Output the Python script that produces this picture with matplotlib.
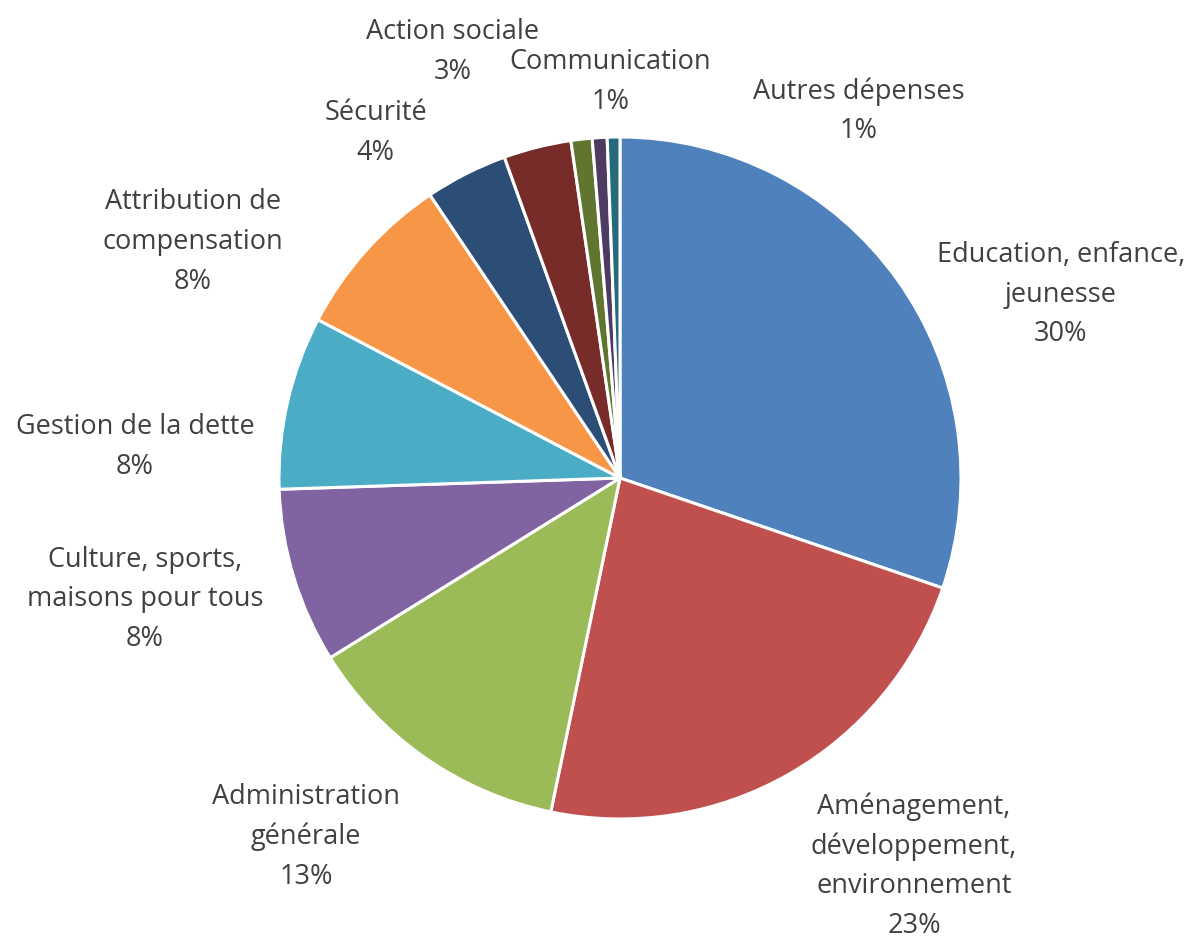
import matplotlib

matplotlib.use("Agg")

import matplotlib.pyplot as plt

# slice values, clockwise from 12 o'clock
categories = [
    "Education, enfance,\njeunesse",
    "Aménagement,\ndéveloppement,\nenvironnement",
    "Administration\ngénérale",
    "Culture, sports,\nmaisons pour tous",
    "Gestion de la dette",
    "Attribution de\ncompensation",
    "Sécurité",
    "Action sociale",
    "Communication",
    "",
    "Autres dépenses",
]
values = [30.2, 23.0, 12.9, 8.3, 8.2, 7.9, 3.9, 3.2, 1.0, 0.7, 0.6]
pct_labels = ["30%", "23%", "13%", "8%", "8%", "8%", "4%", "3%", "1%", "", "1%"]
colors = [
    "#4F81BD", "#C0504D", "#9BBB59", "#8064A2", "#4BACC6", "#F79646",
    "#2C4D75", "#772C2A", "#5F7530", "#4D3B62", "#276A7C",
]

# label centres in pie-radius units
label_pos = [
    (1.293, 0.537), (0.862, -1.138), (-0.921, -1.053), (-1.393, -0.355),
    (-1.422, 0.091), (-1.252, 0.692), (-0.716, 1.012), (-0.490, 1.250),
    (-0.029, 1.161), None, (0.701, 1.076),
]

W, H = 1190, 942
cx, cy, R = 620, 478, 341

fig = plt.figure(figsize=(W / 100, H / 100), dpi=100)
ax = fig.add_axes([0, 0, 1, 1])
ax.pie(
    values,
    colors=colors,
    startangle=90,
    counterclock=False,
    radius=1,
    wedgeprops={"edgecolor": "white", "linewidth": 2.2},
)
ax.set_xlim(-cx / R, (W - cx) / R)
ax.set_ylim(-(H - cy) / R, cy / R)
ax.set_aspect("equal")
ax.axis("off")

for name, pct, pos in zip(categories, pct_labels, label_pos):
    if pos is None:
        continue
    ax.text(
        pos[0], pos[1], f"{name}\n{pct}",
        ha="center", va="center", fontsize=19.5, color="#404040",
        family="Open Sans", linespacing=1.55,
    )

fig.savefig("out.png", dpi=100)
